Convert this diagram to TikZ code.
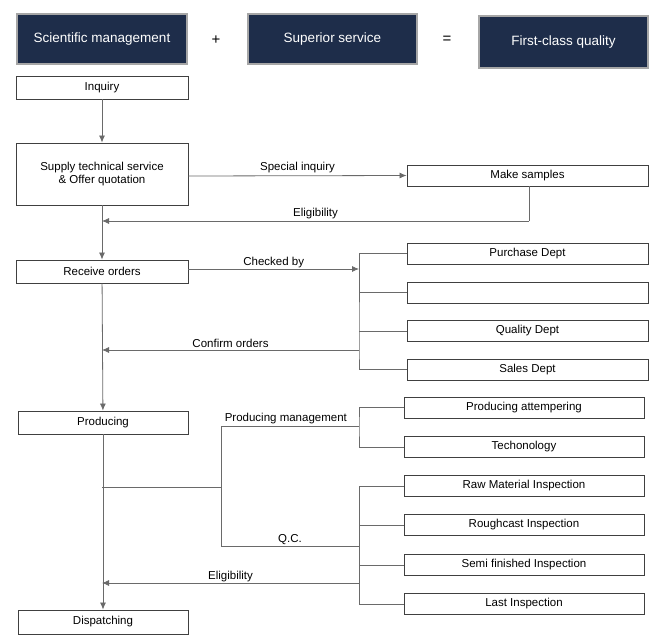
\documentclass[tikz,border=0pt]{standalone}
\usepackage{fontspec}
\setmainfont{Liberation Sans}
\usetikzlibrary{arrows.meta}
\definecolor{navy}{HTML}{1E2D4A}
\definecolor{ln}{HTML}{6A6A6A}
\begin{document}
\begin{tikzpicture}[x=1pt,y=-1pt,
  top/.style={draw=gray!70,line width=1.2pt,fill=navy,text=white,font=\fontsize{13.5}{15}\selectfont,inner sep=0pt},
  box/.style={draw=black!75,line width=0.9pt,fill=white,font=\fontsize{11.5}{13.5}\selectfont,inner sep=0pt},
  con/.style={draw=ln,line width=0.8pt},
  arr/.style={con,-{Latex[length=7pt,width=6pt]}},
  lab/.style={font=\fontsize{11.5}{13.5}\selectfont,inner sep=1pt}]
\useasboundingbox (0,0) rectangle (665,643);
% top row
\node[top,minimum width=170pt,minimum height=50pt] (t1) at (102,39) {Scientific management};
\node[top,minimum width=169pt,minimum height=50pt] (t2) at (332.5,39) {Superior service};
\node[top,minimum width=169pt,minimum height=52pt] (t3) at (563.5,42) {First-class quality};
\node[font=\fontsize{15}{16}\selectfont] (plus) at (216,40) {+};
\node[font=\fontsize{15}{16}\selectfont] (eq) at (447,40) {=};
% left column
\node[box,minimum width=172pt,minimum height=23pt] (inq) at (102,87.5) {Inquiry};
\node[box,minimum width=172pt,minimum height=62pt,align=center] (sup) at (102,174) {Supply technical service\\\& Offer quotation};
\node[box,minimum width=172pt,minimum height=23pt] (rec) at (102,271.5) {Receive orders};
\node[box,minimum width=170pt,minimum height=23pt] (prod) at (103,422.5) {Producing};
\node[box,minimum width=170pt,minimum height=24pt] (disp) at (103,622) {Dispatching};
% right boxes
\node[box,minimum width=241pt,minimum height=21pt] (ms) at (527.5,175.5) {Make samples};
\node[box,minimum width=241pt,minimum height=21pt] (pd) at (527.5,253.5) {Purchase Dept};
\node[box,minimum width=241pt,minimum height=21pt] (hd) at (527.5,292.5) {};
\node[box,minimum width=241pt,minimum height=21pt] (qd) at (527.5,331) {Quality Dept};
\node[box,minimum width=241pt,minimum height=21pt] (sd) at (527.5,369.5) {Sales Dept};
\node[box,minimum width=240pt,minimum height=21pt] (pa) at (524,407.5) {Producing attempering};
\node[box,minimum width=240pt,minimum height=21pt] (te) at (524,447) {Techonology};
\node[box,minimum width=240pt,minimum height=21pt] (rm) at (524,486) {Raw Material Inspection};
\node[box,minimum width=240pt,minimum height=21pt] (rc) at (524,525) {Roughcast Inspection};
\node[box,minimum width=240pt,minimum height=21pt] (sf) at (524,565) {Semi finished Inspection};
\node[box,minimum width=240pt,minimum height=21pt] (li) at (524,604) {Last Inspection};
% coordinates
\coordinate (e1) at (529,221);
\coordinate (e2) at (102,221);
\coordinate (b1) at (359,269);
\coordinate (b2) at (102,350);
\coordinate (j1) at (102,487);
\coordinate (j2) at (221,487);
\coordinate (pm) at (359,426);
\coordinate (qc) at (359,546);
\coordinate (el) at (102,583);
% connectors
\draw[arr] (inq) -- (sup);
\draw[arr] (sup.east |- 0,176) -- node[lab,above=1pt]{Special inquiry} (ms.west);
\draw[con] (ms.south -| e1) -- (e1);
\draw[arr] (e1) -- node[lab,above=1pt]{Eligibility} (e2);
\draw[arr] (sup) -- (rec);
\draw[arr] (rec.east |- b1) -- node[lab,above=0pt]{Checked by} (b1);
\draw[con] (pd.west) -| (359,350) |- (sd.west);
\draw[con] (hd.west) -- (359,292.5);
\draw[con] (qd.west) -- (359,331);
\draw[arr] (359,350) -- node[lab,above=1pt]{Confirm orders} (b2);
\draw[arr] (rec) -- (prod);
\draw[arr] (prod) -- (disp);
\draw[con] (j1) -- (j2);
\draw[con] (221,426) -- (221,546);
\draw[con] (221,426) -- node[lab,above=1pt,pos=0.47]{Producing management} (pm);
\draw[con] (pa.west) -| (pm) |- (te.west);
\draw[con] (221,546) -- node[lab,above=0pt]{Q.C.} (qc);
\draw[con] (rm.west) -| (359,604) -- (li.west);
\draw[con] (rc.west) -- (359,525);
\draw[con] (sf.west) -- (359,565);
\draw[arr] (359,583) -- node[lab,above=0pt,pos=0.5]{Eligibility} (el);
\end{tikzpicture}
\end{document}
